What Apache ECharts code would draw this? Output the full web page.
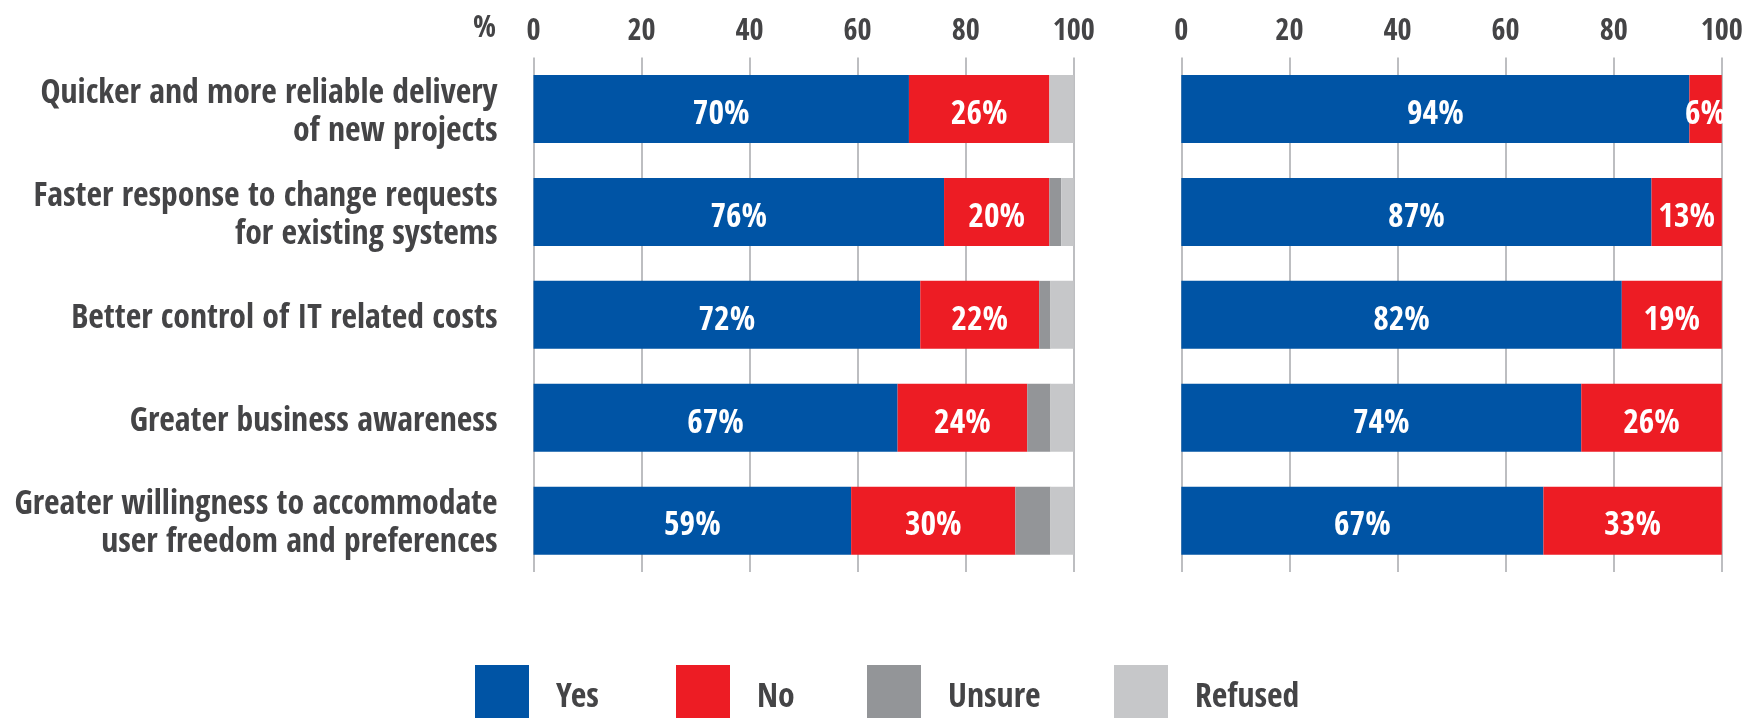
<!DOCTYPE html>
<html>
<head>
<meta charset="utf-8">
<script src="https://cdn.jsdelivr.net/npm/echarts@6/dist/echarts.min.js"></script>
<style>
html,body{margin:0;padding:0;background:#fff;}
#chart{width:1761px;height:718px;}
</style>
</head>
<body>
<div id="chart"></div>
<script>
const categories = [
  "Quicker and more reliable delivery\nof new projects",
  "Faster response to change requests\nfor existing systems",
  "Better control of IT related costs",
  "Greater business awareness",
  "Greater willingness to accommodate\nuser freedom and preferences"
];
const axisTicks = [0, 20, 40, 60, 80, 100];
const legendNames = ["Yes", "No", "Unsure", "Refused"];

// Left panel
const leftYes     = [69.5, 76, 71.6, 67.4, 58.8];
const leftNo      = [26, 19.5, 22, 24, 30.4];
const leftUnsure  = [0, 2.2, 2.1, 4.3, 6.5];
const leftRefused = [4.5, 2.3, 4.3, 4.3, 4.3];

// Right panel
const rightYes = [94, 87, 81.5, 74, 67];
const rightNo  = [6, 13, 18.5, 26, 33];

// ---- pick the narrowest installed sans font and size it to the reference label width ----
const candidates = ['Liberation Sans Narrow', 'Arial Narrow', 'Roboto Condensed', 'Noto Sans ExtraCondensed',
  'Noto Sans Condensed', 'Open Sans Condensed', 'Noto Sans SemiCondensed', 'DejaVu Sans Condensed',
  'Roboto', 'Liberation Sans', 'Lato', 'Noto Sans'];
const probe = 'Greater business awareness';
const ctx = document.createElement('canvas').getContext('2d');
function w(font) { ctx.font = font; return ctx.measureText(probe).width; }
let best = null, bestW = Infinity;
for (const fam of candidates) {
  const a = w("bold 40px '" + fam + "', monospace");
  const b = w("bold 40px monospace");
  const a2 = w("bold 40px '" + fam + "', serif");
  const b2 = w("bold 40px serif");
  if (a !== b && a2 !== b2 && a < bestW) { best = fam; bestW = a; }
}
const FONT = "'" + (best || 'Roboto') + "', sans-serif";
const FS = Math.max(20, Math.min(35, 40 * 368 / (isFinite(bestW) ? bestW : 480)));
const FS_TICK = FS * 0.9;
const WEIGHT = 'bold';
const TXT = '#444446';
const colors = {Yes: '#0054a5', No: '#ed1c24', Unsure: '#939598', Refused: '#c6c7c9'};

const GRID_TOP = 57.6, GRID_H = 514.5;
const LABEL_DY = 4; // category labels sit slightly below bar centres

const chart = echarts.init(document.getElementById('chart'), null, {renderer: 'canvas'});

function xAx(gi) {
  return {
    gridIndex: gi, type: 'value', position: 'top',
    min: axisTicks[0], max: axisTicks[axisTicks.length - 1],
    interval: axisTicks[1] - axisTicks[0],
    axisLine: {show: false}, axisTick: {show: false},
    axisLabel: {color: TXT, fontFamily: FONT, fontWeight: WEIGHT, fontSize: FS_TICK, margin: 11},
    splitLine: {show: true, lineStyle: {color: '#a7a9ac', width: 1.5}}
  };
}
function yAx(gi, showLabels) {
  return {
    gridIndex: gi, type: 'category', inverse: true, data: categories,
    axisLine: {show: false}, axisTick: {show: false},
    axisLabel: {show: showLabels, color: TXT, fontFamily: FONT, fontWeight: WEIGHT,
      fontSize: FS, lineHeight: 38, margin: 36, align: 'right'}
  };
}
const labelStyle = {
  show: true, position: 'inside', color: '#fff', fontFamily: FONT,
  fontWeight: WEIGHT, fontSize: FS, offset: [0, 6],
  formatter: p => Math.round(p.value) + '%'
};
function bar(name, data, gi, withLabel) {
  return {
    name, type: 'bar', stack: 'g' + gi, xAxisIndex: gi, yAxisIndex: gi,
    data, barWidth: 68, itemStyle: {color: colors[name]},
    label: withLabel ? labelStyle : {show: false},
    emphasis: {disabled: true}, animation: false
  };
}
const legendLeft = [475, 676, 867, 1114];
const legends = legendNames.map((n, i) => ({
  left: legendLeft[i], top: 665, itemWidth: 54, itemHeight: 54, icon: 'rect',
  data: [n], selectedMode: false, padding: 0,
  formatter: '{t|{name}}',
  textStyle: {color: TXT, fontFamily: FONT, fontWeight: WEIGHT, fontSize: FS,
    rich: {t: {color: TXT, fontFamily: FONT, fontWeight: WEIGHT, fontSize: FS, padding: [12, 0, 0, 22]}}}
}));

chart.setOption({
  animation: false,
  title: {text: '%', left: 473, top: 14, padding: 0,
    textStyle: {color: TXT, fontFamily: FONT, fontWeight: WEIGHT, fontSize: FS_TICK}},
  grid: [
    {left: 533.5, width: 540.2, top: GRID_TOP, height: GRID_H, containLabel: false, outerBoundsMode: 'none'},
    {left: 1181.3, width: 540.5, top: GRID_TOP, height: GRID_H, containLabel: false, outerBoundsMode: 'none'},
    // label-only grid for category names
    {left: 533.5, width: 540.2, top: GRID_TOP + LABEL_DY, height: GRID_H, containLabel: false, outerBoundsMode: 'none'}
  ],
  xAxis: [xAx(0), xAx(1), {gridIndex: 2, type: 'value', show: false, min: 0, max: 100}],
  yAxis: [yAx(0, false), yAx(1, false), yAx(2, true)],
  legend: legends,
  series: [
    bar('Yes', leftYes, 0, true),
    bar('No', leftNo, 0, true),
    bar('Unsure', leftUnsure, 0, false),
    bar('Refused', leftRefused, 0, false),
    bar('Yes', rightYes, 1, true),
    bar('No', rightNo, 1, true)
  ]
});
</script>
</body>
</html>
